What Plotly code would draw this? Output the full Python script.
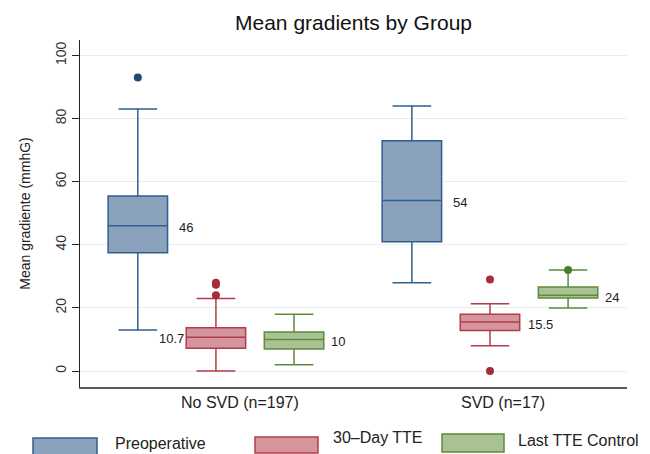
import plotly.graph_objects as go

# ---------------- data ----------------
groups = ["No SVD (n=197)", "SVD (n=17)"]
series_names = ["Preoperative", "30–Day TTE", "Last TTE Control"]

preop_lo = [13, 28]
preop_q1 = [37.5, 41]
preop_med = [46, 54]
preop_q3 = [55.5, 73]
preop_hi = [83, 84]
preop_out = [[93], []]

tte30_lo = [0, 8]
tte30_q1 = [7.2, 12.8]
tte30_med = [10.7, 15.5]
tte30_q3 = [13.7, 18]
tte30_hi = [23, 21.3]
tte30_out = [[28, 27.3, 24], [29, 0]]

last_lo = [2, 20]
last_q1 = [7, 23.1]
last_med = [10, 24]
last_q3 = [12.4, 26.6]
last_hi = [18, 32]
last_out = [[], [32]]

y_ticks = [0, 20, 40, 60, 80, 100]

# ---------------- style ----------------
fills = ["#8ba2bd", "#d4959d", "#a9c294"]
lines = ["#2f5f8e", "#b23c4a", "#5e8b3c"]
dots = ["#1c4b78", "#a52d3b", "#4d7c2c"]
offsets = [-0.285, 0.0, 0.285]
box_w = 0.217
label_gap = [9, 6, 5]
label_side = [["r", "r"], ["l", "r"], ["r", "r"]]
FONT = "Liberation Sans, Arial, Helvetica, sans-serif"

# page body has an 8px default margin; compensate
PAD = 8
W, H = 650 - PAD, 454 - PAD

stats = [
    (preop_lo, preop_q1, preop_med, preop_q3, preop_hi, preop_out),
    (tte30_lo, tte30_q1, tte30_med, tte30_q3, tte30_hi, tte30_out),
    (last_lo, last_q1, last_med, last_q3, last_hi, last_out),
]
gpos = [1, 2]

fig = go.Figure()
annotations = []
for i, (lo, q1, med, q3, hi, out) in enumerate(stats):
    xs = [g + offsets[i] for g in gpos]
    fig.add_trace(go.Box(
        x=xs, q1=q1, median=med, q3=q3, lowerfence=lo, upperfence=hi,
        width=box_w, whiskerwidth=0.65, boxpoints=False,
        fillcolor=fills[i], line=dict(color=lines[i], width=1.5),
        name=series_names[i], showlegend=False, hoverinfo="skip",
    ))
    ox, oy = [], []
    for j, vals in enumerate(out):
        for v in vals:
            ox.append(xs[j])
            oy.append(v)
    if ox:
        fig.add_trace(go.Scatter(
            x=ox, y=oy, mode="markers",
            marker=dict(color=dots[i], size=8),
            showlegend=False, hoverinfo="skip",
        ))
    for j in range(len(gpos)):
        if label_side[i][j] == "r":
            annotations.append(dict(
                x=xs[j] + box_w / 2, y=med[j], xref="x", yref="y",
                text=f"{med[j]:g}", showarrow=False, xanchor="left",
                xshift=label_gap[i], yshift=-2,
                font=dict(family=FONT, size=13, color="#222")))
        else:
            annotations.append(dict(
                x=xs[j] - box_w / 2, y=med[j], xref="x", yref="y",
                text=f"{med[j]:g}", showarrow=False, xanchor="right",
                xshift=0, yshift=-1,
                font=dict(family=FONT, size=13, color="#222")))

# group labels
group_shift = [24, 13]
for j, g in enumerate(groups):
    annotations.append(dict(
        x=gpos[j], y=0, xref="x", yref="paper", yanchor="top",
        text=g, showarrow=False, xshift=group_shift[j], yshift=-5,
        font=dict(family=FONT, size=16, color="#222")))

# legend drawn in paper coordinates (screen pixel positions)
L, R, T, B = 80, 627, 40, 387
def px(x):
    return (x - L) / (R - L)
def py(y):
    return (B - y) / (B - T)

sw = [(33, 97, 438, 458), (255, 318, 437, 453), (442, 504, 434, 452)]
txt = [(113, 443), (331, 438), (516, 440)]
shapes = []
for i in range(3):
    x0, x1, y0, y1 = sw[i]
    shapes.append(dict(type="rect", xref="paper", yref="paper",
                       x0=px(x0), x1=px(x1), y0=py(y1), y1=py(y0),
                       fillcolor=fills[i], line=dict(color=lines[i], width=1.5)))
    annotations.append(dict(
        x=px(txt[i][0]), y=py(txt[i][1]), xref="paper", yref="paper",
        xanchor="left", yanchor="middle", text=series_names[i],
        showarrow=False, font=dict(family=FONT, size=16, color="#222")))

fig.update_layout(
    width=W, height=H,
    margin=dict(l=L - PAD, r=650 - R, t=T - PAD, b=454 - B, autoexpand=False),
    paper_bgcolor="white", plot_bgcolor="white",
    title=dict(text="Mean gradients by Group", x=0.5, xref="paper",
               y=1 - (23 - PAD) / H, yref="container", yanchor="middle",
               font=dict(family=FONT, size=21, color="#111")),
    boxmode="overlay",
    showlegend=False,
    annotations=annotations,
    shapes=shapes,
    font=dict(family=FONT, color="#222"),
)
fig.update_xaxes(range=[0.504, 2.5], showgrid=False, zeroline=False,
                 showticklabels=False, ticks="", showline=True,
                 linecolor="#5a5a5a", linewidth=2)
fig.update_yaxes(range=[-5.07, 104.9], tickvals=y_ticks, tickangle=-90,
                 ticks="outside", ticklen=7, tickcolor="#222",
                 showline=True, linecolor="#222", linewidth=1,
                 showgrid=True, gridcolor="#e6eef2", gridwidth=1,
                 zeroline=False,
                 tickfont=dict(family=FONT, size=14, color="#333"),
                 title=dict(text="Mean gradiente (mmhG)", standoff=19,
                            font=dict(family=FONT, size=14, color="#222")))

fig.write_html("out.html")
